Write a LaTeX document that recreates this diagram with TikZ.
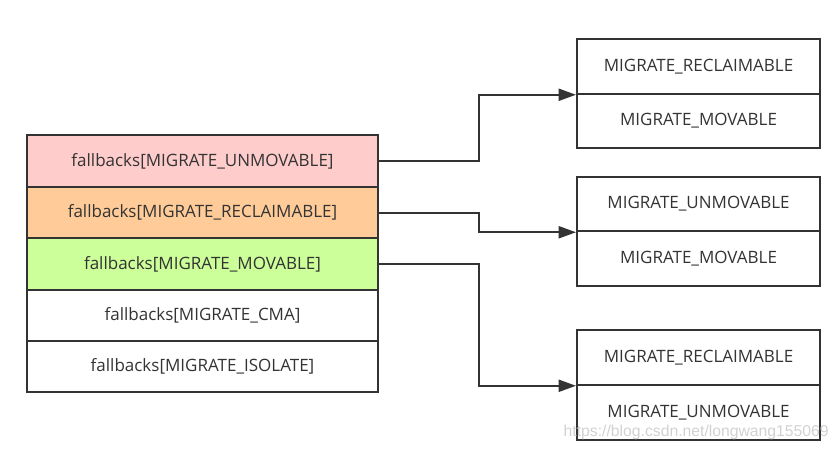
\documentclass[tikz,border=0pt]{standalone}
\usepackage{fontspec}
\setmainfont{Open Sans}
\newfontfamily\markfont{Liberation Sans}
\usetikzlibrary{arrows.meta}
\definecolor{edge}{HTML}{333333}
\definecolor{pinkrow}{HTML}{FFCCCC}
\definecolor{orangerow}{HTML}{FFCC99}
\definecolor{greenrow}{HTML}{CCFF99}

\begin{document}
\begin{tikzpicture}[x=0.75pt,y=-0.75pt]
    \tikzset{
        cell/.style={draw=edge, line width=1.5pt, text=edge, font=\fontsize{12.75}{15}\selectfont, inner sep=0pt},
        fbrow/.style={cell, minimum width=263.25pt, minimum height=38.6pt},
        target/.style={cell, minimum width=182.25pt, minimum height=40.9pt},
        link/.style={draw=edge, line width=1.5pt, -{Triangle[length=13pt,width=9pt]}}
    }
    \useasboundingbox (0,0) rectangle (839,450);
    % fallbacks table
    \node [fbrow, fill=pinkrow] (unmov) at (202.5,161) {fallbacks[MIGRATE\_UNMOVABLE]};
    \node [fbrow, fill=orangerow] (reclaim) at (202.5,212.5) {fallbacks[MIGRATE\_RECLAIMABLE]};
    \node [fbrow, fill=greenrow] (movable) at (202.5,264) {fallbacks[MIGRATE\_MOVABLE]};
    \node [fbrow] (cma) at (202.5,315.5) {fallbacks[MIGRATE\_CMA]};
    \node [fbrow] (isolate) at (202.5,366.5) {fallbacks[MIGRATE\_ISOLATE]};
    % fallback lists
    \node [target] (unmovA) at (698.5,66.5) {MIGRATE\_RECLAIMABLE};
    \node [target] (unmovB) at (698.5,121) {MIGRATE\_MOVABLE};
    \node [target] (reclaimA) at (698.5,204) {MIGRATE\_UNMOVABLE};
    \node [target] (reclaimB) at (698.5,258.5) {MIGRATE\_MOVABLE};
    \node [target] (movableA) at (698.5,357.5) {MIGRATE\_RECLAIMABLE};
    \node [target] (movableB) at (698.5,412.5) {MIGRATE\_UNMOVABLE};
    % links
    \draw [link] (unmov.east) -- ++(100,0) |- (unmovA.south west);
    \draw [link] (reclaim.east) -- ++(100,0) |- (reclaimA.south west);
    \draw [link] (movable.east) -- ++(100,0) |- (movableA.south west);
    \node [text=black!18, font=\markfont\fontsize{11.8}{14}\selectfont, anchor=east, inner sep=0pt] (mark) at (829,432) {https://blog.csdn.net/longwang155069};
\end{tikzpicture}
\end{document}
